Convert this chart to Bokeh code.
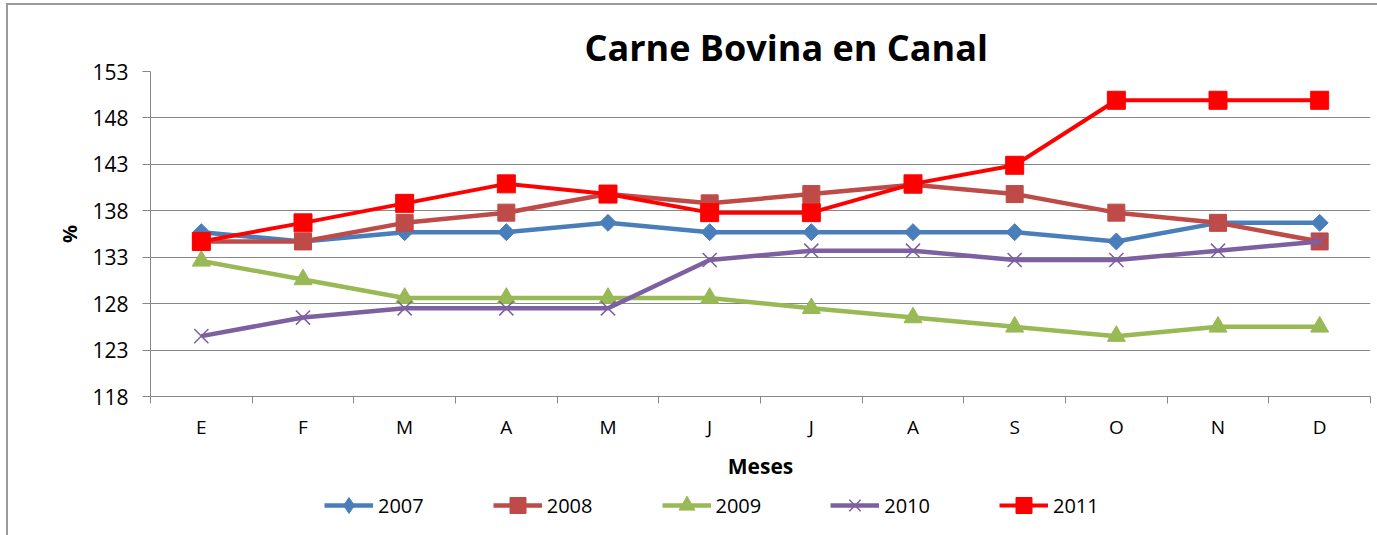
from bokeh.plotting import figure
from bokeh.models import FixedTicker, Legend, LegendItem, Range1d, Title
from bokeh.layouts import column
from bokeh.embed import file_html
from bokeh.resources import INLINE

# ---- data ----
months = ["E", "F", "M", "A", "M", "J", "J", "A", "S", "O", "N", "D"]
month_pos = list(range(1, 13))
years = ["2007", "2008", "2009", "2010", "2011"]
s2007 = [135.7, 134.7, 135.7, 135.7, 136.7, 135.7, 135.7, 135.7, 135.7, 134.7, 136.7, 136.7]
s2008 = [134.7, 134.7, 136.7, 137.8, 139.8, 138.8, 139.8, 140.8, 139.8, 137.8, 136.7, 134.7]
s2009 = [132.6, 130.6, 128.6, 128.6, 128.6, 128.6, 127.5, 126.5, 125.5, 124.5, 125.5, 125.5]
s2010 = [124.5, 126.5, 127.5, 127.5, 127.5, 132.7, 133.7, 133.7, 132.7, 132.7, 133.7, 134.7]
s2011 = [134.7, 136.7, 138.8, 140.9, 139.8, 137.8, 137.8, 140.9, 142.9, 149.9, 149.9, 149.9]
y_ticks = [118, 123, 128, 133, 138, 143, 148, 153]
title_text = "Carne Bovina en Canal"
x_title = "Meses"
y_title = "%"

series = [s2007, s2008, s2009, s2010, s2011]
colors = ["#4A7EBB", "#BE4B48", "#98B954", "#7D60A0", "#FF0000"]
markers = ["square", "square", "triangle", "x", "square"]
legend_markers = ["diamond", "square", "triangle", "x", "square"]
angles = [0.785398, 0, 0, 0, 0]
sizes = [12, 17, 18, 20, 18]
line_widths = [4.5, 4.5, 4.5, 4.5, 4]

FONT = "Open Sans"
GRID = "#878787"

p = figure(width=1369, height=477,
           x_range=Range1d(0.5, 12.5), y_range=Range1d(118, 153),
           output_backend="svg", toolbar_location=None,
           min_border_left=142, min_border_right=7,
           min_border_top=66, min_border_bottom=86,
           outline_line_color=None,
           background_fill_color="white", border_fill_color="white")

p.title = Title(text=title_text, align="left", offset=434, standoff=0,
                text_font=FONT, text_font_size="36px", text_font_style="bold",
                text_color="black")

# x axis: labels at category centres, ticks at category boundaries
xa = p.xaxis[0]
xa.ticker = FixedTicker(ticks=month_pos, minor_ticks=[i + 0.5 for i in range(0, 13)])
xa.major_label_overrides = {i: m for i, m in zip(month_pos, months)}
xa.major_tick_out = 0
xa.major_tick_in = 0
xa.minor_tick_out = 7
xa.minor_tick_in = 0
xa.minor_tick_line_color = GRID
xa.axis_line_color = GRID
xa.major_label_text_font = FONT
xa.major_label_text_font_size = "19px"
xa.major_label_text_color = "black"
xa.major_label_standoff = 10
xa.axis_label = x_title
xa.axis_label_text_font = FONT
xa.axis_label_text_font_size = "21px"
xa.axis_label_text_font_style = "bold"
xa.axis_label_text_color = "black"
xa.axis_label_standoff = 9

ya = p.yaxis[0]
ya.ticker = FixedTicker(ticks=y_ticks)
ya.major_tick_out = 8
ya.major_tick_in = 0
ya.minor_tick_out = 0
ya.minor_tick_in = 0
ya.major_tick_line_color = GRID
ya.axis_line_color = GRID
ya.major_label_text_font = FONT
ya.major_label_text_font_size = "21px"
ya.major_label_text_color = "black"
ya.major_label_standoff = 14
ya.axis_label = y_title
ya.axis_label_text_font = FONT
ya.axis_label_text_font_size = "20px"
ya.axis_label_text_font_style = "bold"
ya.axis_label_text_color = "black"
ya.axis_label_standoff = 6

p.xgrid.visible = False
p.ygrid.grid_line_color = GRID
p.ygrid.grid_line_width = 1

# legend strip: a second figure whose series lie outside its visible range,
# so only the legend (same glyph styles) shows
q = figure(width=1369, height=53, x_range=Range1d(0, 1369), y_range=Range1d(0, 53),
           output_backend="svg", toolbar_location=None,
           x_axis_location=None, y_axis_location=None,
           min_border_left=0, min_border_right=0, min_border_top=0, min_border_bottom=0,
           outline_line_color=None,
           background_fill_color="white", border_fill_color="white")
q.grid.visible = False

items = []
for name, vals, c, m, lm, a, s, lw in zip(years, series, colors, markers, legend_markers,
                                          angles, sizes, line_widths):
    p.line(month_pos, vals, line_color=c, line_width=lw, line_join="round")
    lr = q.line(month_pos, vals, line_color=c, line_width=lw, line_join="round")
    if m == "x":
        p.scatter(month_pos, vals, marker=m, size=s, line_color=c, line_width=1.5)
        sr = q.scatter(month_pos, vals, marker=lm, size=s, line_color=c, line_width=1.5)
    else:
        p.scatter(month_pos, vals, marker=m, size=s, angle=a,
                  fill_color=c, line_color=c, line_width=1)
        sr = q.scatter(month_pos, vals, marker=lm, size=s,
                       fill_color=c, line_color=c, line_width=1)
    items.append(LegendItem(label=name, renderers=[lr, sr]))

legend = Legend(items=items, orientation="horizontal", location=(174, 10),
                glyph_width=49, glyph_height=40, label_standoff=5, spacing=69,
                padding=0, margin=0, border_line_color=None, background_fill_alpha=0,
                label_text_font=FONT, label_text_font_size="20px",
                label_text_color="black")
q.add_layout(legend)

layout = column(p, q, spacing=0)
layout.styles = {"border-left": "2px solid #9a9a9a", "border-top": "2px solid #9a9a9a",
                 "margin-left": "6px", "margin-top": "3px"}

open("out.html", "w").write(file_html(layout, INLINE))
